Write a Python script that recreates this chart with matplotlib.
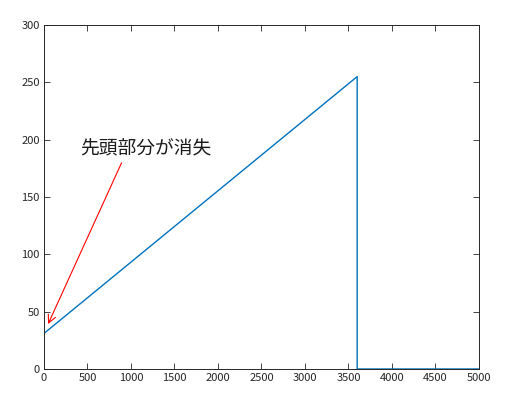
import numpy as np
import matplotlib.pyplot as plt

plt.rcParams['font.family'] = ['Noto Sans CJK JP', 'DejaVu Sans']

# 信号のデータ (サンプル番号, 値)
sample_x = [0, 3600, 3600, 5000]
sample_y = [31, 255, 0, 0]

xticks = [0, 500, 1000, 1500, 2000, 2500, 3000, 3500, 4000, 4500, 5000]
yticks = [0, 50, 100, 150, 200, 250, 300]

note_text = '先頭部分が消失'
arrow_head = (34, 37)
arrow_tail = (905, 182)
text_pos = (410, 193)

fig = plt.figure(figsize=(5.05, 3.98), dpi=100)
ax = fig.add_axes([0.0871, 0.0729, 0.8614, 0.8643])

ax.plot(sample_x, sample_y, color='#0072BD', lw=1.0)

ax.set_xlim(0, 5000)
ax.set_ylim(0, 300)
ax.set_xticks(xticks)
ax.set_yticks(yticks)
ax.tick_params(direction='in', top=True, right=True, length=4, width=0.6,
               labelsize=8, colors='#262626', labelcolor='#262626', pad=3)
for s in ax.spines.values():
    s.set_color('#262626')
    s.set_linewidth(0.7)

ax.annotate('', xy=arrow_head, xytext=arrow_tail,
            arrowprops=dict(arrowstyle='->', color='red', lw=0.8,
                            mutation_scale=14))
ax.text(text_pos[0], text_pos[1], note_text, fontsize=13.5, va='center', ha='left',
        color='#1a1a1a')

fig.savefig('out.png', dpi=100)
